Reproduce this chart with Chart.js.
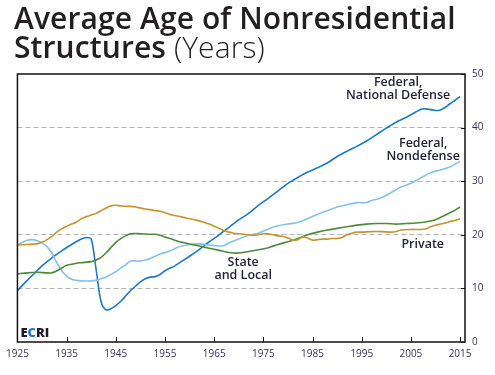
<!DOCTYPE html>
<html>
<head>
<meta charset="utf-8">
<script src="https://cdn.jsdelivr.net/npm/chart.js@4.4.1/dist/chart.umd.min.js"></script>
<style>
  html, body { margin: 0; padding: 0; background: #fff; }
  #wrap { position: relative; width: 495px; height: 375px; overflow: hidden; }
  #title {
    position: absolute; left: 14px; top: 3px;
    font-family: "Open Sans", sans-serif; font-weight: 600;
    font-size: 30px; line-height: 29px; color: #231f20; letter-spacing: 0.1px;
  }
  #title .unit { font-weight: 300; }
  canvas { position: absolute; left: 0; top: 0; }
</style>
</head>
<body>
<div id="wrap">
  <canvas id="chAge" width="495" height="375"></canvas>
  <div id="title">Average Age of Nonresidential<br>Structures <span class="unit">(Years)</span></div>
</div>
<script>
// Average age of nonresidential structures, by owner (years)

const defenseYears = [1925, 1927, 1929, 1930, 1932, 1934, 1936, 1938, 1939, 1940, 1941, 1942, 1943, 1944, 1945, 1946, 1947, 1948, 1949, 1950, 1951, 1952, 1953, 1954, 1955, 1957, 1958, 1960, 1962, 1964, 1966, 1968, 1970, 1972, 1974, 1976, 1978, 1980, 1982, 1984, 1986, 1988, 1990, 1992, 1994, 1996, 1998, 2000, 2002, 2004, 2006, 2007, 2008, 2010, 2011, 2012, 2013, 2014, 2015];
const defenseAge = [9.6, 11.5, 13.3, 14.2, 15.7, 17.0, 18.2, 19.2, 19.5, 19.2, 13.5, 7.5, 6.0, 6.2, 6.8, 7.6, 8.6, 9.6, 10.4, 11.2, 11.8, 12.1, 12.2, 12.6, 13.3, 14.2, 14.8, 16.0, 17.3, 18.7, 20.0, 21.4, 22.8, 24.0, 25.5, 26.8, 28.2, 29.6, 30.7, 31.7, 32.5, 33.4, 34.6, 35.6, 36.5, 37.5, 38.7, 39.9, 41.0, 41.9, 42.9, 43.4, 43.5, 43.2, 43.3, 43.8, 44.5, 45.1, 45.8];

const nondefYears = [1925, 1926, 1927, 1928, 1929, 1930, 1931, 1932, 1933, 1934, 1935, 1936, 1937, 1938, 1940, 1941, 1942, 1943, 1944, 1945, 1946, 1947, 1948, 1950, 1951, 1952, 1953, 1954, 1956, 1958, 1960, 1962, 1964, 1966, 1967, 1968, 1970, 1972, 1974, 1976, 1978, 1980, 1982, 1984, 1986, 1988, 1990, 1992, 1994, 1996, 1997, 1999, 2001, 2003, 2005, 2007, 2009, 2011, 2013, 2015];
const nondefAge = [18.1, 18.6, 19.0, 19.1, 18.9, 18.5, 17.8, 16.6, 14.8, 13.3, 12.3, 11.7, 11.5, 11.4, 11.4, 11.5, 11.8, 12.1, 12.6, 13.1, 13.8, 14.4, 15.1, 15.1, 15.3, 15.6, 16.0, 16.4, 17.0, 17.8, 18.2, 18.3, 18.1, 17.9, 18.0, 18.5, 19.2, 19.9, 20.3, 21.1, 21.7, 22.0, 22.3, 23.0, 23.8, 24.5, 25.2, 25.6, 26.0, 26.0, 26.4, 26.9, 27.9, 28.9, 29.6, 30.6, 31.6, 32.1, 32.7, 33.7];

const privateYears = [1925, 1927, 1929, 1930, 1931, 1932, 1933, 1934, 1935, 1936, 1937, 1938, 1939, 1940, 1941, 1942, 1943, 1944, 1945, 1946, 1947, 1948, 1949, 1950, 1951, 1952, 1953, 1954, 1955, 1956, 1957, 1958, 1959, 1960, 1961, 1962, 1963, 1964, 1965, 1966, 1967, 1968, 1969, 1970, 1971, 1972, 1973, 1974, 1975, 1976, 1977, 1978, 1979, 1980, 1981, 1982, 1983, 1984, 1985, 1986, 1987, 1988, 1989, 1990, 1991, 1992, 1993, 1994, 1995, 1997, 1999, 2001, 2002, 2003, 2005, 2007, 2008, 2009, 2010, 2011, 2012, 2013, 2014, 2015];
const privateAge = [18.1, 18.2, 18.3, 18.6, 19.1, 19.7, 20.5, 21.1, 21.6, 22.0, 22.4, 23.0, 23.4, 23.7, 24.0, 24.5, 25.0, 25.4, 25.5, 25.4, 25.3, 25.3, 25.2, 25.0, 24.8, 24.7, 24.5, 24.4, 24.1, 23.8, 23.6, 23.4, 23.2, 23.0, 22.8, 22.6, 22.3, 22.0, 21.6, 21.2, 20.8, 20.5, 20.3, 20.2, 20.1, 20.0, 19.9, 20.0, 20.2, 20.2, 20.0, 19.8, 19.7, 19.4, 19.0, 19.1, 19.6, 19.4, 19.0, 19.1, 19.2, 19.2, 19.3, 19.3, 19.5, 20.0, 20.3, 20.5, 20.5, 20.6, 20.6, 20.5, 20.6, 20.9, 21.0, 21.0, 21.1, 21.5, 21.8, 22.0, 22.2, 22.5, 22.7, 23.0];

const stateYears = [1925, 1927, 1929, 1931, 1932, 1933, 1934, 1935, 1936, 1937, 1938, 1940, 1941, 1942, 1943, 1944, 1945, 1946, 1947, 1948, 1950, 1952, 1953, 1954, 1955, 1956, 1957, 1958, 1960, 1962, 1964, 1966, 1968, 1970, 1972, 1974, 1976, 1978, 1980, 1982, 1984, 1986, 1988, 1990, 1992, 1994, 1996, 1998, 2000, 2002, 2004, 2006, 2008, 2010, 2012, 2014, 2015];
const stateAge = [12.7, 12.9, 13.0, 12.9, 12.9, 13.3, 13.8, 14.3, 14.5, 14.7, 14.8, 15.0, 15.3, 15.8, 16.6, 17.6, 18.6, 19.3, 19.8, 20.2, 20.2, 20.1, 20.1, 19.9, 19.6, 19.3, 19.0, 18.7, 18.3, 17.9, 17.5, 17.1, 16.7, 16.6, 16.9, 17.2, 17.6, 18.2, 18.7, 19.3, 20.0, 20.5, 20.9, 21.2, 21.5, 21.8, 22.0, 22.1, 22.1, 22.0, 22.1, 22.2, 22.4, 22.8, 23.7, 24.6, 25.2];

const xTicks = [1925, 1935, 1945, 1955, 1965, 1975, 1985, 1995, 2005, 2015];
const yTicks = [0, 10, 20, 30, 40, 50];

// in-chart series labels: text lines, centre year, baseline value of first line
const seriesLabels = [
    { lines: ['Federal,', 'National Defense'], year: 2002.4, value: 47.75 },
    { lines: ['Federal,', 'Nondefense'], year: 2007.5, value: 36.3 },
    { lines: ['Private'], year: 2007.4, value: 17.6 },
    { lines: ['State', 'and Local'], year: 1970.9, value: 14.1 }
];

function toPoints(xs, ys) {
    return xs.map((x, i) => ({ x: x, y: ys[i] }));
}

const inkColor = '#1f2236';
const tickColor = '#3b3160';

// frame, inward ticks, series labels and logo
const framePlugin = {
    id: 'frame',
    afterDatasetsDraw(chart) {
        const ctx = chart.ctx;
        const a = chart.chartArea;
        const xs = chart.scales.x, ys = chart.scales.y;
        ctx.save();
        ctx.strokeStyle = '#111';
        ctx.lineWidth = 1.5;
        ctx.strokeRect(a.left, a.top, a.right - a.left, a.bottom - a.top);
        ctx.lineWidth = 1;
        ctx.beginPath();
        xTicks.forEach(t => {
            const px = Math.round(xs.getPixelForValue(t)) + 0.5;
            ctx.moveTo(px, a.bottom);
            ctx.lineTo(px, a.bottom - 5);
        });
        yTicks.forEach(t => {
            const py = Math.round(ys.getPixelForValue(t)) + 0.5;
            ctx.moveTo(a.right, py);
            ctx.lineTo(a.right - 4, py);
        });
        ctx.stroke();

        ctx.fillStyle = inkColor;
        ctx.font = '600 12.5px "Open Sans", sans-serif';
        ctx.textAlign = 'center';
        ctx.textBaseline = 'alphabetic';
        seriesLabels.forEach(l => {
            const px = xs.getPixelForValue(l.year);
            const py = ys.getPixelForValue(l.value);
            l.lines.forEach((s, i) => ctx.fillText(s, px, py + i * 13));
        });

        // ECRI mark
        ctx.font = '800 13px "Open Sans", sans-serif';
        ctx.textAlign = 'left';
        let lx = a.left + 3;
        const ly = a.bottom - 5;
        [['E', '#1c1a2a'], ['C', '#1f7bc4'], ['RI', '#1c1a2a']].forEach(p => {
            ctx.fillStyle = p[1];
            ctx.fillText(p[0], lx, ly);
            lx += ctx.measureText(p[0]).width;
        });
        ctx.restore();
    }
};

function lineSet(label, xs, ys, color) {
    return {
        label: label,
        data: toPoints(xs, ys),
        borderColor: color,
        borderWidth: 1.6,
        pointRadius: 0,
        tension: 0.3,
        fill: false
    };
}

new Chart(document.getElementById('chAge').getContext('2d'), {
    type: 'line',
    data: {
        datasets: [
            lineSet('Private', privateYears, privateAge, '#c4952f'),
            lineSet('State and Local', stateYears, stateAge, '#4d8a3c'),
            lineSet('Federal, Nondefense', nondefYears, nondefAge, '#86c2e8'),
            lineSet('Federal, National Defense', defenseYears, defenseAge, '#1d7ac6')
        ]
    },
    options: {
        responsive: false,
        animation: false,
        layout: { padding: { left: 15, top: 74, right: 0, bottom: 0 } },
        plugins: { legend: { display: false }, tooltip: { enabled: false } },
        scales: {
            x: {
                type: 'linear',
                min: 1925,
                max: 2016,
                afterBuildTicks: s => { s.ticks = xTicks.map(v => ({ value: v })); },
                afterFit: s => { s.height = 33; },
                grid: { display: false, drawTicks: false },
                border: { display: false },
                ticks: {
                    color: tickColor,
                    font: { family: '"Open Sans", sans-serif', size: 10 },
                    padding: 6,
                    maxRotation: 0,
                    callback: v => String(v)
                }
            },
            y: {
                position: 'right',
                min: 0,
                max: 50,
                afterBuildTicks: s => { s.ticks = yTicks.map(v => ({ value: v })); },
                afterFit: s => { s.width = 30; },
                grid: {
                    drawTicks: false,
                    color: c => (c.tick.value === 0 || c.tick.value === 50) ? 'rgba(0,0,0,0)' : '#b5b5b5',
                    lineWidth: 1
                },
                border: { display: false, dash: [5, 3] },
                ticks: {
                    color: tickColor,
                    font: { family: '"Open Sans", sans-serif', size: 10 },
                    padding: 7
                }
            }
        }
    },
    plugins: [framePlugin]
});
</script>
</body>
</html>
